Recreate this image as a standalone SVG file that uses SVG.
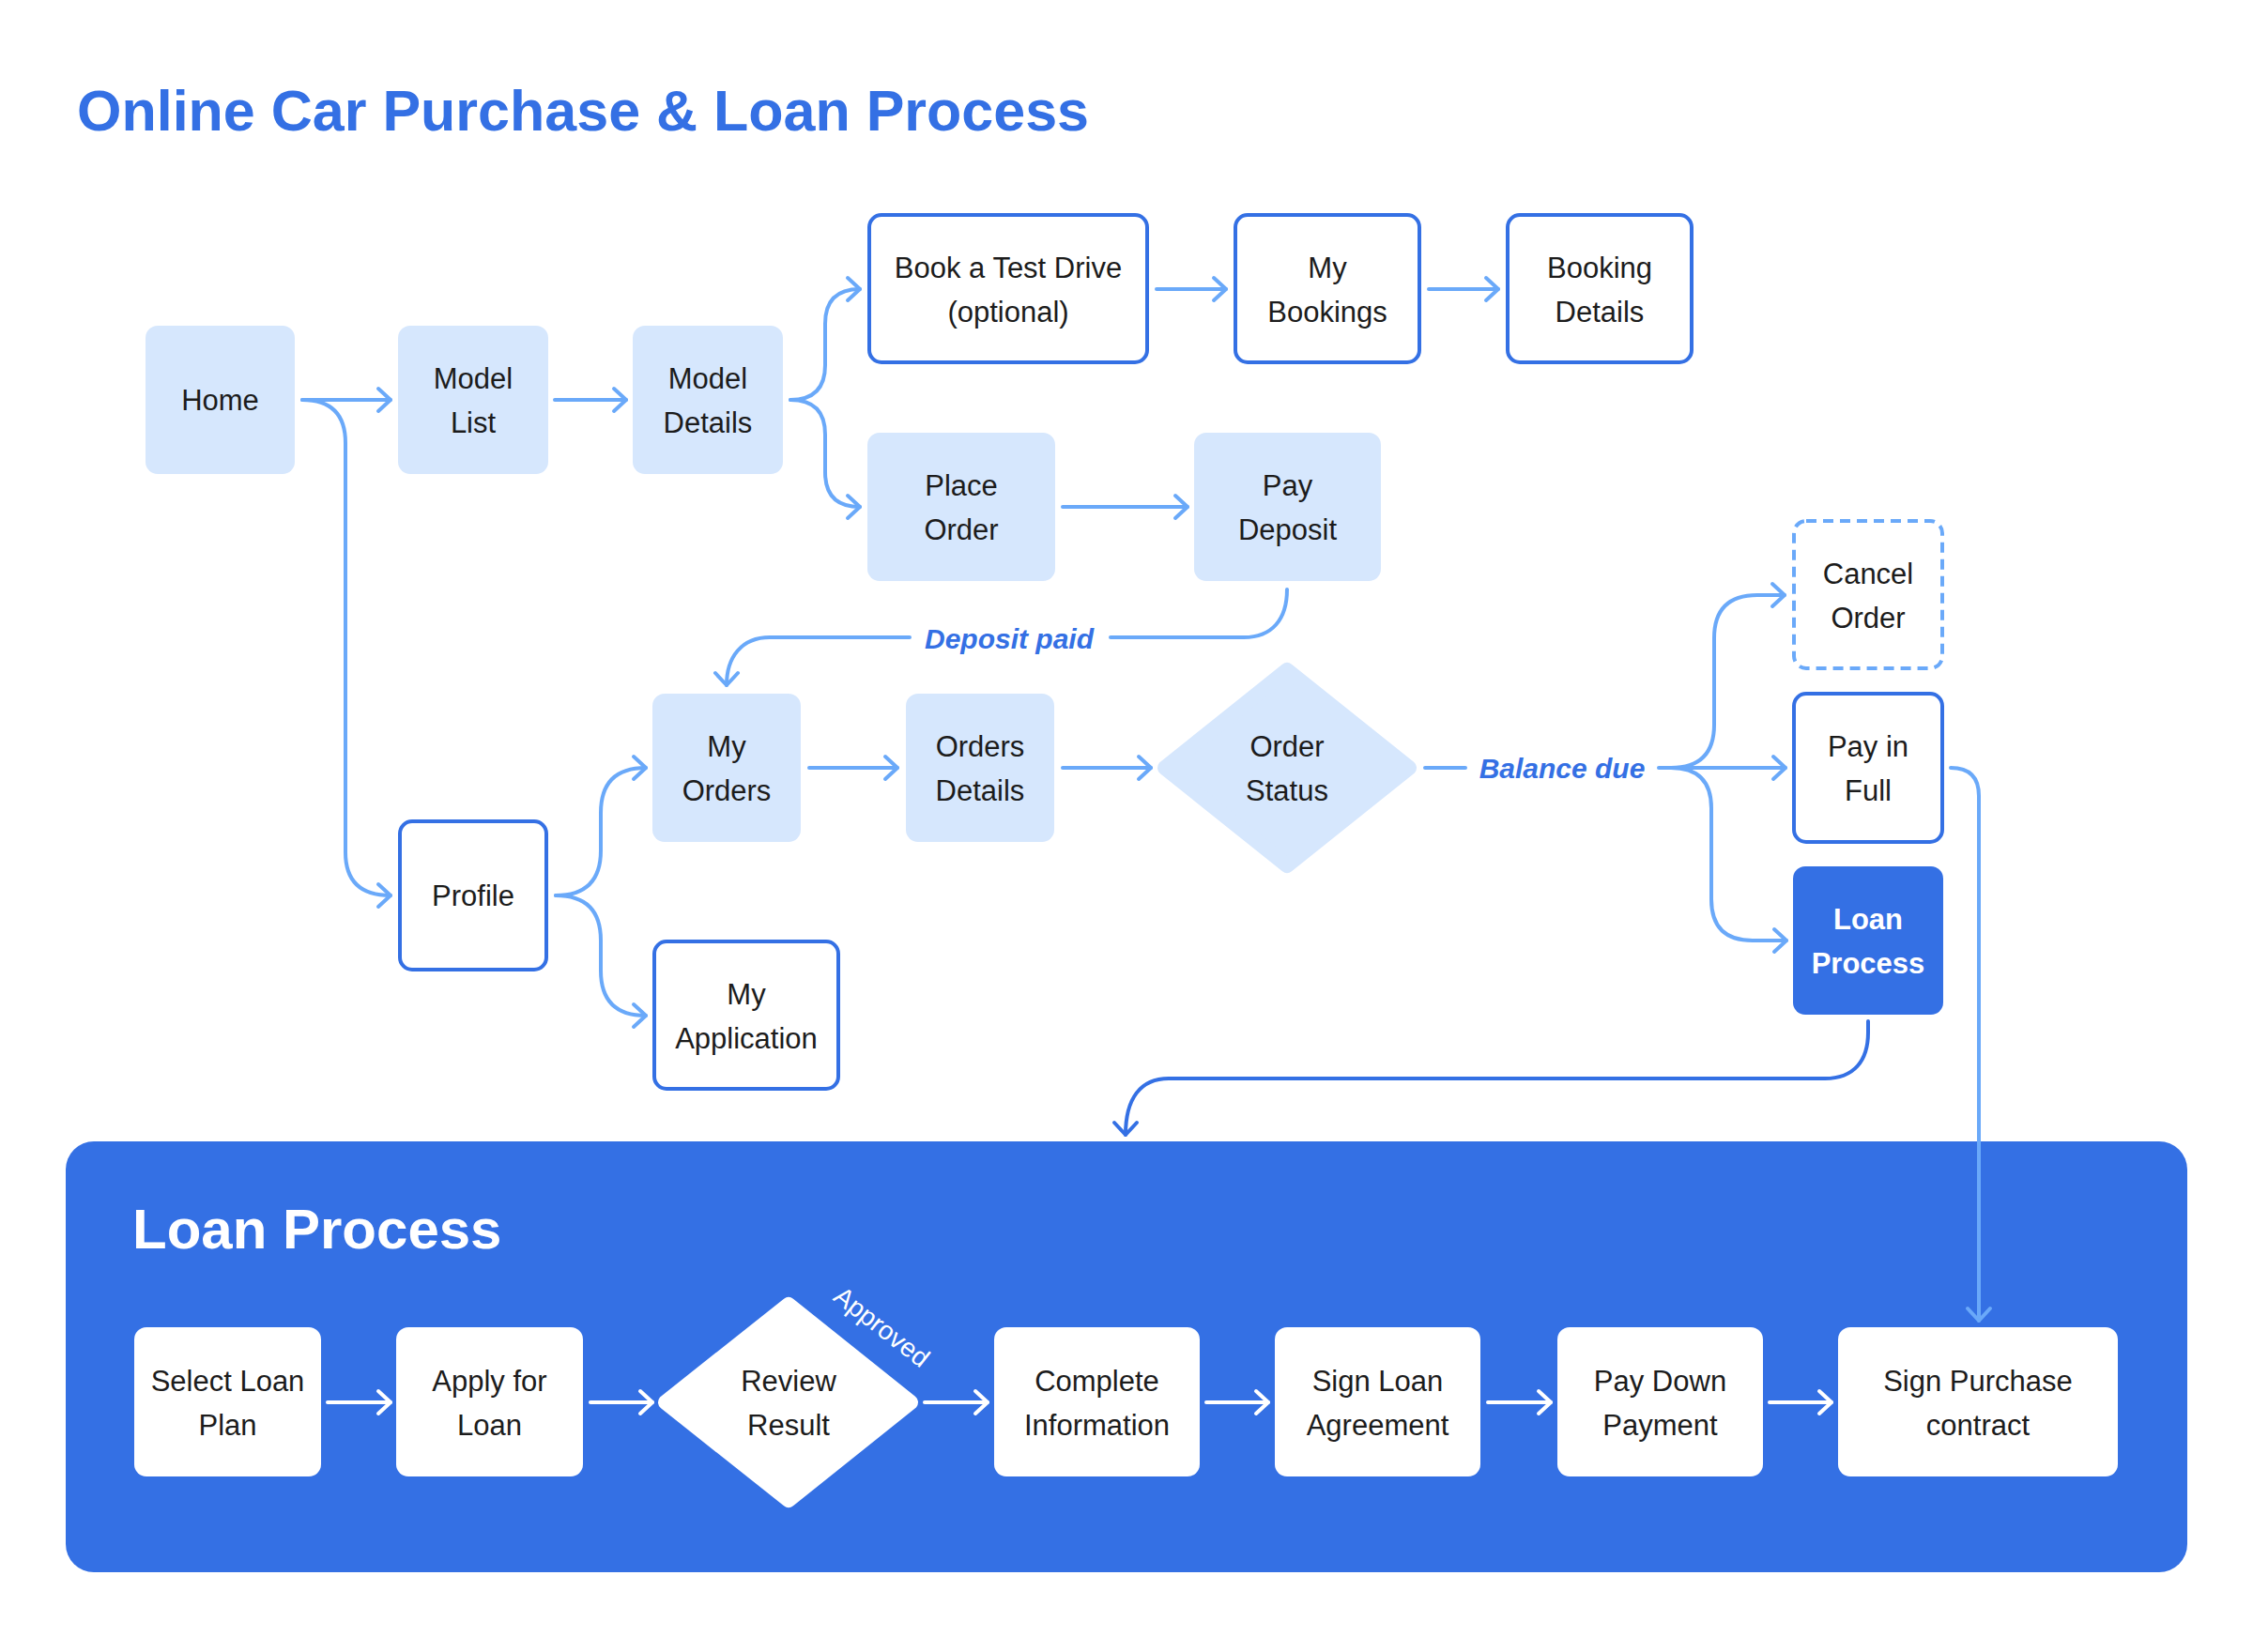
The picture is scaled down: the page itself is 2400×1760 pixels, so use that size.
<svg xmlns="http://www.w3.org/2000/svg" width="2400" height="1760" viewBox="0 0 2400 1760">
<defs>
<style>
.t{font-family:"Liberation Sans",Arial,sans-serif;font-size:31px;fill:#1c1c1c;text-anchor:middle}
.tw{font-family:"Liberation Sans",Arial,sans-serif;font-size:31px;fill:#ffffff;text-anchor:middle;font-weight:bold}
.lbl{font-family:"Liberation Sans",Arial,sans-serif;font-size:30px;fill:#3470E4;font-weight:bold;font-style:italic;text-anchor:middle}
.light{fill:#D6E7FD}
.out{fill:#ffffff;stroke:#3470E4;stroke-width:4}
.dash{fill:#ffffff;stroke:#6AA9F9;stroke-width:4;stroke-dasharray:11 7}
.dark{fill:#3470E4}
.wbox{fill:#ffffff}
.c{fill:none;stroke:#6AA9F9;stroke-width:4;stroke-linecap:round;stroke-linejoin:round}
.cd{fill:none;stroke:#3470E4;stroke-width:4;stroke-linecap:round;stroke-linejoin:round}
.cw{fill:none;stroke:#ffffff;stroke-width:4;stroke-linecap:round;stroke-linejoin:round}
</style>
<marker id="al" markerUnits="userSpaceOnUse" markerWidth="40" markerHeight="40" viewBox="-20 -20 40 40" refX="0" refY="0" orient="auto">
<path d="M-13,-12 L0,0 L-13,12" fill="none" stroke="#6AA9F9" stroke-width="4" stroke-linecap="round" stroke-linejoin="round"/>
</marker>
<marker id="ad" markerUnits="userSpaceOnUse" markerWidth="40" markerHeight="40" viewBox="-20 -20 40 40" refX="0" refY="0" orient="auto">
<path d="M-13,-12 L0,0 L-13,12" fill="none" stroke="#3470E4" stroke-width="4" stroke-linecap="round" stroke-linejoin="round"/>
</marker>
<marker id="aw" markerUnits="userSpaceOnUse" markerWidth="40" markerHeight="40" viewBox="-20 -20 40 40" refX="0" refY="0" orient="auto">
<path d="M-13,-12 L0,0 L-13,12" fill="none" stroke="#ffffff" stroke-width="4" stroke-linecap="round" stroke-linejoin="round"/>
</marker>
</defs>
<rect x="0" y="0" width="2400" height="1760" fill="#ffffff"/>
<text x="82" y="139" font-family="Liberation Sans, Arial, sans-serif" font-size="61" font-weight="bold" fill="#3470E4">Online Car Purchase &amp; Loan Process</text>

<g id="loan-panel">
<rect x="70" y="1216" width="2260" height="459" rx="30" class="dark"/>
<text x="141" y="1330" font-family="Liberation Sans, Arial, sans-serif" font-size="60" font-weight="bold" fill="#ffffff">Loan Process</text>
</g>

<g id="connectors">
<path class="c" d="M322,426 H416" marker-end="url(#al)"/>
<path class="c" d="M322,426 Q368,426 368,472 V908 Q368,954 416,954" marker-end="url(#al)"/>
<path class="c" d="M591,426 H667" marker-end="url(#al)"/>
<path class="c" d="M842,426 Q879,426 879,389 V345 Q879,308 916,308" marker-end="url(#al)"/>
<path class="c" d="M842,426 Q879,426 879,463 V503 Q879,540 916,540" marker-end="url(#al)"/>
<path class="c" d="M1232,308 H1306" marker-end="url(#al)"/>
<path class="c" d="M1522,308 H1596" marker-end="url(#al)"/>
<path class="c" d="M1132,540 H1265" marker-end="url(#al)"/>
<path class="c" d="M1371,628 C1371,660 1355,679 1325,679 H1183"/>
<path class="c" d="M969,679 H820 C790,679 774,700 774,730" marker-end="url(#al)"/>
<path class="c" d="M592,954 Q640,954 640,906 V866 Q640,818 688,818" marker-end="url(#al)"/>
<path class="c" d="M592,954 Q640,954 640,1002 V1034 Q640,1082 688,1082" marker-end="url(#al)"/>
<path class="c" d="M862,818 H956" marker-end="url(#al)"/>
<path class="c" d="M1132,818 H1226" marker-end="url(#al)"/>
<path class="c" d="M1518,818 H1561"/>
<path class="c" d="M1767,818 H1902" marker-end="url(#al)"/>
<path class="c" d="M1780,818 Q1826,818 1826,772 V680 Q1826,634 1872,634 H1901" marker-end="url(#al)"/>
<path class="c" d="M1780,818 Q1823,818 1823,861 V958 Q1823,1002 1867,1002 H1903" marker-end="url(#al)"/>
<path class="c" d="M2078,818 Q2108,818 2108,848 V1407" marker-end="url(#al)"/>
<path class="cd" d="M1990,1088 V1100 C1990,1130 1975,1149 1944,1149 H1245 C1215,1149 1199,1170 1199,1209" marker-end="url(#ad)"/>
<path class="cw" d="M349,1494 H416" marker-end="url(#aw)"/>
<path class="cw" d="M629,1494 H695" marker-end="url(#aw)"/>
<path class="cw" d="M985,1494 H1052" marker-end="url(#aw)"/>
<path class="cw" d="M1285,1494 H1351" marker-end="url(#aw)"/>
<path class="cw" d="M1585,1494 H1652" marker-end="url(#aw)"/>
<path class="cw" d="M1885,1494 H1951" marker-end="url(#aw)"/>
</g>

<g id="lbl-deposit"><text class="lbl" x="1075" y="691">Deposit paid</text></g>
<g id="lbl-balance"><text class="lbl" x="1664" y="829">Balance due</text></g>
<g id="lbl-approved"><text transform="translate(939,1414) rotate(38)" x="0" y="9" font-family="Liberation Sans, Arial, sans-serif" font-size="28" fill="#ffffff" text-anchor="middle">Approved</text></g>

<g id="home"><rect x="155" y="347" width="159" height="158" rx="13" class="light"/><text class="t" x="234.5" y="437">Home</text></g>
<g id="model-list"><rect x="424" y="347" width="160" height="158" rx="13" class="light"/><text class="t" x="504" y="414">Model</text><text class="t" x="504" y="461">List</text></g>
<g id="model-details"><rect x="674" y="347" width="160" height="158" rx="13" class="light"/><text class="t" x="754" y="414">Model</text><text class="t" x="754" y="461">Details</text></g>
<g id="book-test-drive"><rect x="926" y="229" width="296" height="157" rx="13" class="out"/><text class="t" x="1074" y="296">Book a Test Drive</text><text class="t" x="1074" y="343">(optional)</text></g>
<g id="my-bookings"><rect x="1316" y="229" width="196" height="157" rx="13" class="out"/><text class="t" x="1414" y="296">My</text><text class="t" x="1414" y="343">Bookings</text></g>
<g id="booking-details"><rect x="1606" y="229" width="196" height="157" rx="13" class="out"/><text class="t" x="1704" y="296">Booking</text><text class="t" x="1704" y="343">Details</text></g>
<g id="place-order"><rect x="924" y="461" width="200" height="158" rx="13" class="light"/><text class="t" x="1024" y="528">Place</text><text class="t" x="1024" y="575">Order</text></g>
<g id="pay-deposit"><rect x="1272" y="461" width="199" height="158" rx="13" class="light"/><text class="t" x="1371.5" y="528">Pay</text><text class="t" x="1371.5" y="575">Deposit</text></g>
<g id="my-orders"><rect x="695" y="739" width="158" height="158" rx="13" class="light"/><text class="t" x="774" y="806">My</text><text class="t" x="774" y="853">Orders</text></g>
<g id="orders-details"><rect x="965" y="739" width="158" height="158" rx="13" class="light"/><text class="t" x="1044" y="806">Orders</text><text class="t" x="1044" y="853">Details</text></g>
<g id="order-status"><polygon points="1371,714 1501,818 1371,922 1241,818" fill="#D6E7FD" stroke="#D6E7FD" stroke-width="16" stroke-linejoin="round"/><text class="t" x="1371" y="806">Order</text><text class="t" x="1371" y="853">Status</text></g>
<g id="cancel-order"><rect x="1911" y="555" width="158" height="157" rx="13" class="dash"/><text class="t" x="1990" y="622">Cancel</text><text class="t" x="1990" y="669">Order</text></g>
<g id="pay-in-full"><rect x="1911" y="739" width="158" height="158" rx="13" class="out"/><text class="t" x="1990" y="806">Pay in</text><text class="t" x="1990" y="853">Full</text></g>
<g id="loan-process-node"><rect x="1910" y="923" width="160" height="158" rx="13" class="dark"/><text class="tw" x="1990" y="990">Loan</text><text class="tw" x="1990" y="1037">Process</text></g>
<g id="profile"><rect x="426" y="875" width="156" height="158" rx="13" class="out"/><text class="t" x="504" y="965">Profile</text></g>
<g id="my-application"><rect x="697" y="1003" width="196" height="157" rx="13" class="out"/><text class="t" x="795" y="1070">My</text><text class="t" x="795" y="1117">Application</text></g>

<g id="select-loan-plan"><rect x="143" y="1414" width="199" height="159" rx="13" class="wbox"/><text class="t" x="242.5" y="1482">Select Loan</text><text class="t" x="242.5" y="1529">Plan</text></g>
<g id="apply-for-loan"><rect x="422" y="1414" width="199" height="159" rx="13" class="wbox"/><text class="t" x="521.5" y="1482">Apply for</text><text class="t" x="521.5" y="1529">Loan</text></g>
<g id="review-result"><polygon points="840,1390 970,1494 840,1598 709,1494" fill="#ffffff" stroke="#ffffff" stroke-width="16" stroke-linejoin="round"/><text class="t" x="840" y="1482">Review</text><text class="t" x="840" y="1529">Result</text></g>
<g id="complete-information"><rect x="1059" y="1414" width="219" height="159" rx="13" class="wbox"/><text class="t" x="1168.5" y="1482">Complete</text><text class="t" x="1168.5" y="1529">Information</text></g>
<g id="sign-loan-agreement"><rect x="1358" y="1414" width="219" height="159" rx="13" class="wbox"/><text class="t" x="1467.5" y="1482">Sign Loan</text><text class="t" x="1467.5" y="1529">Agreement</text></g>
<g id="pay-down-payment"><rect x="1659" y="1414" width="219" height="159" rx="13" class="wbox"/><text class="t" x="1768.5" y="1482">Pay Down</text><text class="t" x="1768.5" y="1529">Payment</text></g>
<g id="sign-purchase-contract"><rect x="1958" y="1414" width="298" height="159" rx="13" class="wbox"/><text class="t" x="2107" y="1482">Sign Purchase</text><text class="t" x="2107" y="1529">contract</text></g>
</svg>
